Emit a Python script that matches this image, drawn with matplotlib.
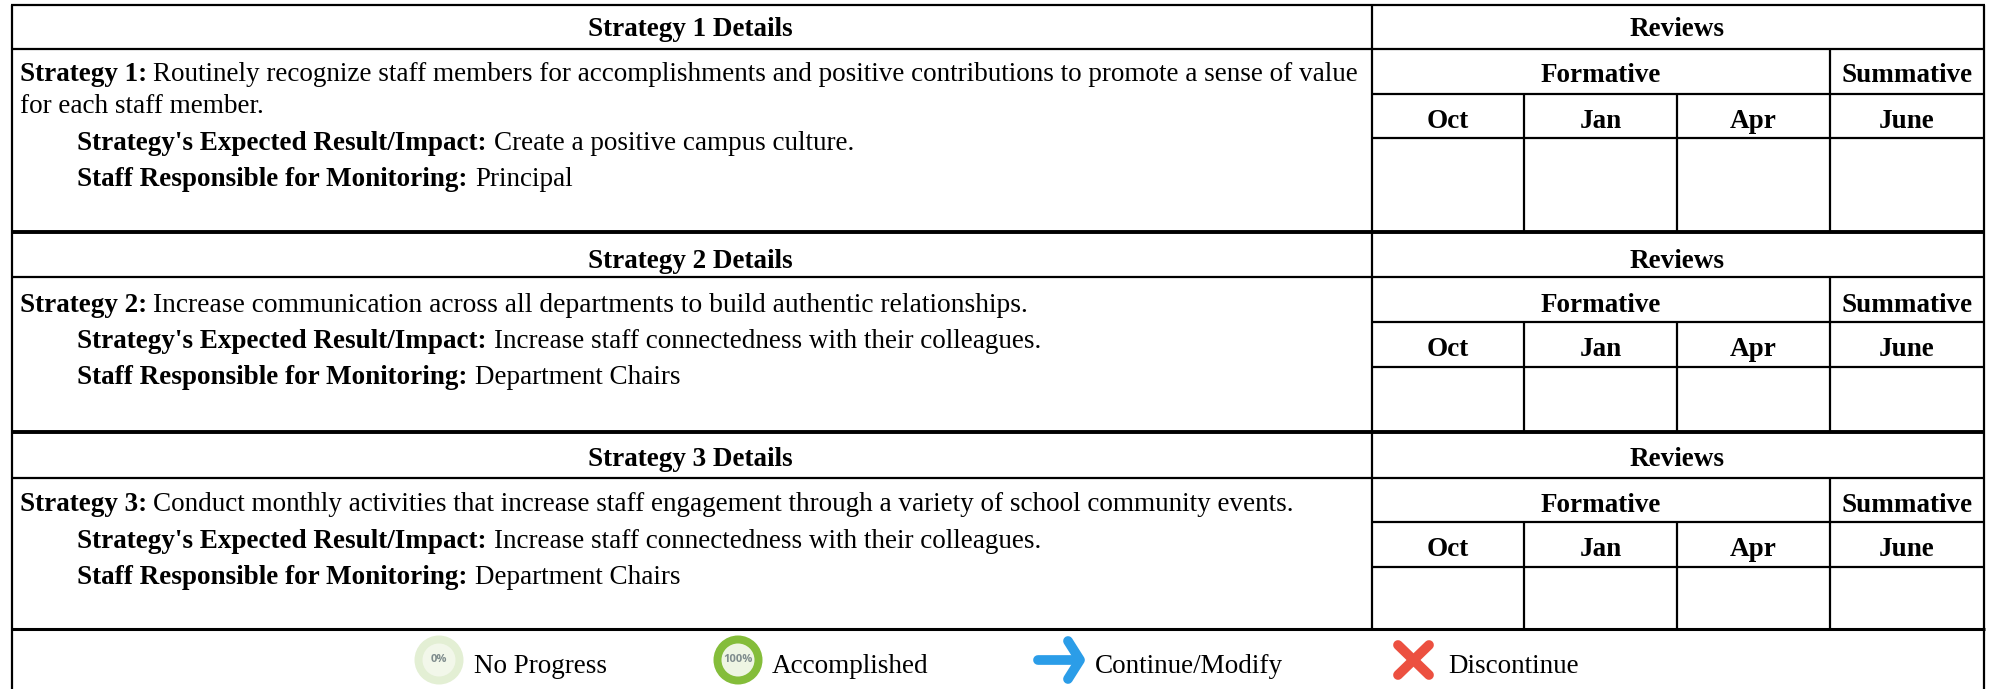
import matplotlib
matplotlib.use("Agg")
import matplotlib.pyplot as plt
from matplotlib.patches import Circle

W, H = 1993, 689
FONT = "Liberation Serif"
FS = 19.5

titles = ["Strategy 1 Details", "Strategy 2 Details", "Strategy 3 Details"]
leads = ["Strategy 1:", "Strategy 2:", "Strategy 3:"]
bodies = [
    ["Routinely recognize staff members for accomplishments and positive contributions to promote a sense of value", "for each staff member."],
    ["Increase communication across all departments to build authentic relationships."],
    ["Conduct monthly activities that increase staff engagement through a variety of school community events."],
]
impacts = ["Create a positive campus culture.",
           "Increase staff connectedness with their colleagues.",
           "Increase staff connectedness with their colleagues."]
monitors = ["Principal", "Department Chairs", "Department Chairs"]
months = ["Oct", "Jan", "Apr", "June"]
legend_labels = ["No Progress", "Accomplished", "Continue/Modify", "Discontinue"]

# y of block rules: top, reviews, formative, months, bottom
blocks = [(5, 49, 94, 138, 232), (232, 277, 322, 367, 432), (432, 478, 522, 567, 629)]
title_shift = [-1, 3.5, 2]
form_shift = [0, 3, 1]
left_shift = [0, 2.5, 1]
body_fs = [19.5, 19.85, 19.5]
xl, xs, xr = 12, 1372, 1984
xm = [1372, 1524, 1677, 1830, 1984]

fig = plt.figure(figsize=(W / 100, H / 100), dpi=100)
ax = fig.add_axes([0, 0, 1, 1])
ax.set_xlim(0, W)
ax.set_ylim(H, 0)
ax.axis("off")


def rule(x0, y0, x1, y1, lw=1.6):
    ax.plot([x0, x1], [y0, y1], color="black", lw=lw, solid_capstyle="butt")


def txt(x, y, s, bold=False, ha="left", fs=FS):
    return ax.text(x, y, s, family=FONT, fontsize=fs, fontweight="bold" if bold else "normal",
                   ha=ha, va="baseline", color="black")


def pair(x, y, lead, rest, gap=8, fs=FS):
    t = txt(x, y, lead, bold=True)
    e = t.get_window_extent(fig.canvas.get_renderer())
    txt(e.x1 + gap, y, rest, fs=fs)


for i, (y0, y1, y2, y3, y4) in enumerate(blocks):
    rule(xl, y1, xr, y1)
    rule(xs, y2, xr, y2)
    rule(xs, y3, xr, y3)
    rule(xs, y0, xs, y4)
    rule(xm[3], y1, xm[3], y4)
    for xx in xm[1:3]:
        rule(xx, y2, xx, y4)
    if i:
        rule(xl - 1, y0, xr + 1, y0, lw=2.8)
    txt((xl + xs) / 2 - 1.5, y0 + 32.5 + title_shift[i], titles[i], bold=True, ha="center")
    txt((xs + xr) / 2 - 0.5, y0 + 32.5 + title_shift[i], "Reviews", bold=True, ha="center")
    txt((xm[0] + xm[3]) / 2, y1 + 32.5 + form_shift[i], "Formative", bold=True, ha="center")
    txt((xm[3] + xm[4]) / 2, y1 + 32.5 + form_shift[i], "Summative", bold=True, ha="center")
    for j, m in enumerate(months):
        txt((xm[j] + xm[j + 1]) / 2, y2 + 33.5, m, bold=True, ha="center")
    y = y1 + 32 + left_shift[i]
    pair(20, y, leads[i], bodies[i][0], gap=6, fs=body_fs[i])
    for extra in bodies[i][1:]:
        y += 32
        txt(20, y, extra)
    y += 36.5
    pair(77, y, "Strategy's Expected Result/Impact:", impacts[i])
    y += 36.5
    pair(77, y, "Staff Responsible for Monitoring:", monitors[i])

rule(xl - 1, 629, xr + 1, 629, lw=2.2)
rule(xl - 1, 5, xr + 1, 5)
rule(xl, 5, xl, H)
rule(xr, 5, xr, H)

# legend
ly = 673
cy = 660
ax.add_patch(Circle((439, cy), 24.5, fc="#e3efd4", ec="none"))
ax.add_patch(Circle((439, cy), 16.5, fc="#f2f7ea", ec="none"))
ax.text(439, cy, "0%", family="Open Sans", fontweight="bold", fontsize=8, ha="center", va="center", color="#7f8c8d")
ax.add_patch(Circle((738, cy), 24.5, fc="#84bd3a", ec="none"))
ax.add_patch(Circle((738, cy), 16.5, fc="#eef5e3", ec="none"))
ax.text(738, cy, "100%", family="Open Sans", fontweight="bold", fontsize=8, ha="center", va="center", color="#7f8c8d")
blue = "#2b9de8"
ax.plot([1038, 1079], [cy, cy], color=blue, lw=7, solid_capstyle="round")
ax.plot([1068, 1080, 1068], [cy - 19, cy, cy + 19], color=blue, lw=7, solid_capstyle="round", solid_joinstyle="round")
red = "#ec5040"
ax.plot([1398, 1429], [cy - 15, cy + 15], color=red, lw=7, solid_capstyle="round")
ax.plot([1429, 1398], [cy - 15, cy + 15], color=red, lw=7, solid_capstyle="round")
for x, s in zip([474, 772, 1095, 1448], legend_labels):
    txt(x, ly, s)

fig.savefig("out.png", dpi=100)
